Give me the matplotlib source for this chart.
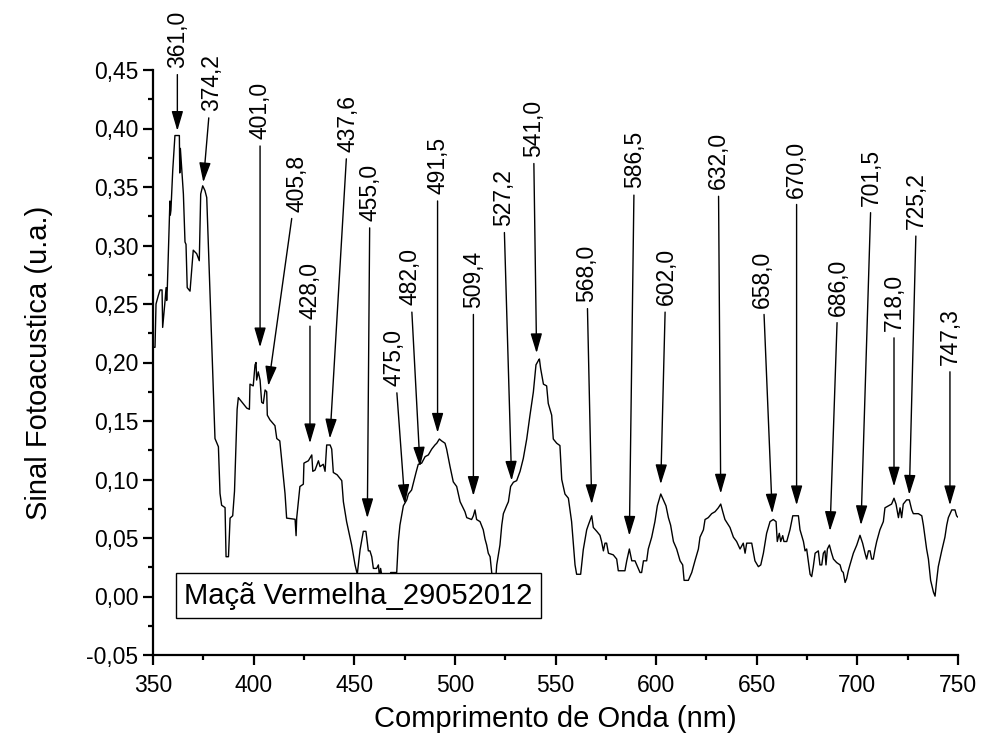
import matplotlib
matplotlib.use("Agg")
import matplotlib.pyplot as plt
from matplotlib.ticker import MultipleLocator

plt.rcParams['font.family'] = ['Liberation Sans', 'DejaVu Sans']

# ---- data ----
wavelength = [
    350.2, 351.0, 351.5, 352.6, 353.5, 354.5, 354.8, 356.0, 356.5, 356.8, 357.1, 358.4, 358.6, 358.9,
    359.8, 360.9, 363.1, 363.3, 363.6, 365.1, 365.9, 366.4, 367.0, 368.4, 370.0, 371.7, 373.0, 373.7,
    374.7, 375.8, 376.7, 380.8, 382.5, 383.3, 384.1, 385.8, 386.3, 387.5, 388.3, 389.6, 390.5, 391.8,
    392.4, 396.6, 397.9, 398.2, 399.8, 400.7, 401.2, 401.5, 402.3, 403.2, 404.0, 404.8, 405.7, 406.5,
    406.8, 408.1, 410.6, 411.5, 413.0, 414.7, 415.6, 416.4, 420.6, 421.1, 421.4, 423.0, 424.7, 425.0,
    427.2, 428.9, 429.4, 430.5, 432.2, 433.0, 434.6, 435.5, 436.3, 438.0, 438.8, 439.6, 441.5, 443.8,
    444.6, 446.2, 448.7, 450.4, 451.5, 452.9, 454.5, 455.8, 457.0, 457.8, 458.7, 459.5, 461.1, 462.0,
    462.5, 463.1, 463.6, 464.5, 465.3, 467.8, 468.1, 471.1, 471.9, 472.7, 474.4, 476.1, 476.9, 478.5,
    480.7, 481.8, 483.5, 485.2, 486.8, 488.5, 490.1, 491.0, 492.3, 493.4, 495.1, 495.9, 496.8, 497.6,
    499.2, 500.9, 502.6, 505.0, 505.9, 508.3, 509.2, 510.0, 510.8, 512.5, 514.1, 515.0, 515.8, 516.6,
    517.5, 518.3, 519.1, 519.6, 520.4, 520.8, 522.4, 523.3, 524.1, 525.7, 526.6, 527.7, 529.1, 530.7,
    532.4, 534.0, 535.7, 537.3, 539.0, 540.3, 541.5, 542.0, 542.6, 544.0, 545.6, 546.4, 548.1, 548.9,
    550.6, 552.2, 553.1, 554.7, 556.4, 558.0, 558.9, 559.7, 560.5, 562.5, 563.0, 563.8, 565.5, 566.3,
    568.0, 568.8, 570.5, 572.1, 572.9, 573.8, 574.6, 575.4, 576.3, 578.7, 580.4, 581.2, 584.5, 585.4,
    586.7, 587.9, 589.5, 592.0, 592.8, 593.7, 595.3, 596.1, 597.8, 599.4, 600.6, 602.3, 603.6, 604.9,
    606.1, 607.2, 608.6, 610.2, 611.9, 613.2, 613.9, 616.0, 617.7, 619.3, 621.0, 621.8, 623.5, 624.3,
    625.9, 627.6, 629.3, 630.9, 632.1, 633.1, 634.2, 636.7, 638.4, 640.0, 641.7, 643.3, 644.2, 645.0,
    647.5, 649.1, 650.8, 652.0, 653.3, 654.9, 656.6, 658.2, 659.6, 660.2, 661.2, 661.9, 662.9, 663.5,
    664.9, 666.5, 667.9, 670.7, 671.5, 673.2, 674.0, 674.8, 675.6, 676.5, 677.3, 678.1, 679.0, 680.6,
    681.4, 682.3, 683.1, 683.9, 684.4, 685.1, 686.1, 687.2, 688.1, 689.7, 691.4, 692.2, 693.0, 693.9,
    694.7, 695.5, 696.3, 698.0, 699.7, 701.3, 702.6, 703.8, 704.6, 705.5, 706.3, 707.1, 707.9, 708.8,
    709.6, 711.2, 712.9, 713.7, 715.4, 717.0, 718.2, 719.2, 720.4, 721.2, 722.0, 722.8, 724.5, 725.8,
    727.0, 727.8, 730.3, 732.0, 732.8, 733.6, 734.4, 735.3, 736.4, 737.8, 738.6, 739.4, 740.2, 741.9,
    743.5, 744.4, 745.2, 746.9, 748.5, 749.3, 749.8,
]
signal = [
    0.213, 0.213, 0.250, 0.257, 0.262, 0.262, 0.230, 0.253, 0.264, 0.253, 0.263, 0.338, 0.326, 0.330,
    0.364, 0.394, 0.394, 0.362, 0.383, 0.344, 0.303, 0.301, 0.264, 0.261, 0.296, 0.293, 0.287, 0.344,
    0.351, 0.347, 0.341, 0.135, 0.128, 0.088, 0.078, 0.076, 0.034, 0.034, 0.067, 0.069, 0.090, 0.160,
    0.170, 0.161, 0.160, 0.1815, 0.180, 0.198, 0.200, 0.185, 0.192, 0.185, 0.166, 0.165, 0.1765, 0.175,
    0.155, 0.151, 0.146, 0.135, 0.133, 0.104, 0.088, 0.067, 0.066, 0.052, 0.067, 0.094, 0.096, 0.114,
    0.116, 0.121, 0.107, 0.108, 0.116, 0.111, 0.113, 0.107, 0.1295, 0.1295, 0.126, 0.106, 0.104, 0.099,
    0.081, 0.064, 0.044, 0.027, 0.019, 0.040, 0.0557, 0.0557, 0.039, 0.039, 0.034, 0.024, 0.024, 0.027,
    0.017, 0.024, 0.019, 0.019, 0.0154, 0.0154, 0.0205, 0.0205, 0.047, 0.061, 0.0775, 0.0826, 0.0876, 0.091,
    0.106, 0.113, 0.114, 0.1195, 0.121, 0.126, 0.1295, 0.131, 0.1346, 0.133, 0.131, 0.126, 0.118, 0.111,
    0.098, 0.094, 0.081, 0.0725, 0.0674, 0.0658, 0.069, 0.074, 0.0658, 0.064, 0.057, 0.049, 0.044, 0.037,
    0.034, 0.0205, 0.0037, -0.0013, 0.017, 0.027, 0.044, 0.061, 0.0708, 0.0775, 0.081, 0.094, 0.0977, 0.099,
    0.107, 0.118, 0.1346, 0.1547, 0.1748, 0.198, 0.2017, 0.203, 0.195, 0.1815, 0.180, 0.165, 0.155, 0.1346,
    0.131, 0.129, 0.100, 0.0876, 0.084, 0.064, 0.044, 0.027, 0.019, 0.019, 0.027, 0.040, 0.057, 0.061,
    0.069, 0.059, 0.0557, 0.0523, 0.047, 0.039, 0.0456, 0.0456, 0.037, 0.0356, 0.032, 0.022, 0.022, 0.0305,
    0.0406, 0.0305, 0.0305, 0.0205, 0.0205, 0.0305, 0.0305, 0.0406, 0.0507, 0.064, 0.0775, 0.0876, 0.0826, 0.0775,
    0.0674, 0.061, 0.047, 0.0406, 0.0305, 0.027, 0.0138, 0.0138, 0.0205, 0.0305, 0.0406, 0.0507, 0.057, 0.0658,
    0.0674, 0.0708, 0.0725, 0.0758, 0.079, 0.0725, 0.0658, 0.059, 0.0507, 0.047, 0.0406, 0.0456, 0.037, 0.0456,
    0.0456, 0.0305, 0.0255, 0.027, 0.037, 0.054, 0.064, 0.0658, 0.064, 0.047, 0.054, 0.047, 0.052, 0.047,
    0.047, 0.057, 0.069, 0.069, 0.057, 0.047, 0.039, 0.0406, 0.0305, 0.019, 0.017, 0.0255, 0.037, 0.039,
    0.027, 0.027, 0.037, 0.039, 0.027, 0.0406, 0.044, 0.037, 0.032, 0.029, 0.027, 0.022, 0.0205, 0.012,
    0.0154, 0.022, 0.027, 0.037, 0.044, 0.0523, 0.0456, 0.037, 0.032, 0.039, 0.039, 0.032, 0.032, 0.0406,
    0.047, 0.057, 0.064, 0.0758, 0.0775, 0.079, 0.084, 0.079, 0.0674, 0.0758, 0.0674, 0.079, 0.0826, 0.0826,
    0.074, 0.0708, 0.0708, 0.069, 0.061, 0.0507, 0.0406, 0.032, 0.0138, 0.0037, 0.0003, 0.0138, 0.0255, 0.039,
    0.0507, 0.061, 0.0674, 0.074, 0.074, 0.069, 0.068,
]

peak_labels = ["361,0", "374,2", "401,0", "405,8", "428,0", "437,6", "455,0", "475,0", "482,0",
               "491,5", "509,4", "527,2", "541,0", "568,0", "586,5", "602,0", "632,0", "658,0",
               "670,0", "686,0", "701,5", "718,0", "725,2", "747,3"]
tip_x = [362.1, 375.0, 403.2, 407.3, 428.0, 437.9, 456.5, 475.2, 482.7, 491.4, 509.2, 528.2,
         540.6, 568.0, 586.7, 602.3, 632.1, 657.7, 669.8, 686.4, 701.8, 718.2, 725.8, 746.0]
tip_y = [0.398, 0.354, 0.213, 0.180, 0.131, 0.135, 0.067, 0.079, 0.111, 0.140, 0.086, 0.099,
         0.208, 0.079, 0.052, 0.096, 0.088, 0.071, 0.078, 0.056, 0.061, 0.094, 0.087, 0.078]
label_x = [362.1, 379.2, 403.2, 421.4, 428.0, 447.1, 457.8, 469.9, 477.7, 491.4, 509.2, 524.1,
           539.0, 565.5, 589.2, 604.9, 630.9, 652.9, 669.8, 690.5, 707.1, 718.2, 729.5, 746.0]
label_y = [0.452, 0.415, 0.391, 0.329, 0.237, 0.380, 0.321, 0.180, 0.249, 0.344, 0.247, 0.317,
           0.376, 0.252, 0.349, 0.249, 0.348, 0.247, 0.341, 0.240, 0.334, 0.227, 0.314, 0.198]

x_ticks = [350, 400, 450, 500, 550, 600, 650, 700, 750]
y_ticks = [-0.05, 0.00, 0.05, 0.10, 0.15, 0.20, 0.25, 0.30, 0.35, 0.40, 0.45]
y_tick_labels = ["-0,05", "0,00", "0,05", "0,10", "0,15", "0,20", "0,25", "0,30", "0,35", "0,40", "0,45"]

series_name = "Maçã Vermelha_29052012"
x_title = "Comprimento de Onda (nm)"
y_title = "Sinal Fotoacustica (u.a.)"

# ---- figure ----
fig = plt.figure(figsize=(9.82, 7.49), dpi=100)
ax = fig.add_axes([153 / 982, 94 / 749, 805 / 982, 585 / 749])

ax.plot(wavelength, signal, color='black', lw=1.0)

ax.set_xlim(350, 750)
ax.set_ylim(-0.05, 0.45)

for s in ['top', 'right']:
    ax.spines[s].set_visible(False)
for s in ['left', 'bottom']:
    ax.spines[s].set_linewidth(1.6)

ax.set_xticks(x_ticks)
ax.set_xticklabels([str(v) for v in x_ticks])
ax.set_yticks(y_ticks)
ax.set_yticklabels(y_tick_labels)
ax.xaxis.set_minor_locator(MultipleLocator(25))
ax.yaxis.set_minor_locator(MultipleLocator(0.025))
ax.tick_params(which='major', direction='out', length=7.5, width=1.6, labelsize=16.5)
ax.tick_params(which='minor', direction='out', length=3.8, width=1.6)
ax.tick_params(axis='x', which='major', pad=6)
ax.tick_params(axis='y', which='major', pad=3)

ax.set_xlabel(x_title, fontsize=21, labelpad=6)
ax.set_ylabel(y_title, fontsize=21, labelpad=24)

for lab, tx, ty, lx, ly in zip(peak_labels, tip_x, tip_y, label_x, label_y):
    ax.annotate(lab, xy=(tx, ty), xytext=(lx, ly), textcoords='data',
                rotation=90, ha='center', va='bottom', fontsize=16.5,
                annotation_clip=False,
                arrowprops=dict(arrowstyle='-|>,head_length=0.75,head_width=0.22',
                                mutation_scale=16, color='black', lw=1.0,
                                shrinkA=3, shrinkB=0))

ax.text(0.2553, 0.1017, series_name, transform=ax.transAxes, ha='center', va='center',
        fontsize=21,
        bbox=dict(boxstyle='square,pad=0.3', fc='white', ec='black', lw=1.0))

fig.savefig('out.png', dpi=100)
